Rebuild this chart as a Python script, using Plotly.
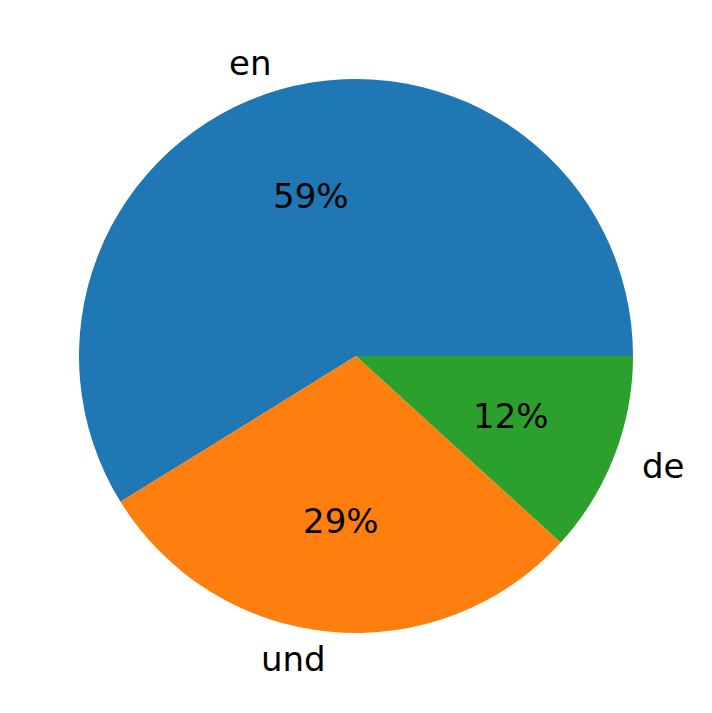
import math
import plotly.graph_objects as go

labels = ["en", "und", "de"]
values = [50, 25, 10]
colors = ["#1f77b4", "#ff7f0e", "#2ca02c"]

# the page body has an 8px margin, so the figure is placed at (8, 8)
OFF = 8
W, H = 712 - OFF, 713 - OFF
R_PX = 277
cx_px, cy_px = 356 - OFF, 356 - OFF
ml = cx_px - R_PX
mt = cy_px - R_PX
mr = W - ml - 2 * R_PX
mb = H - mt - 2 * R_PX

total = sum(values)
# matplotlib-style: first slice starts at 3 o'clock, counterclockwise
rotation = 90 - 360 * values[0] / total

fig = go.Figure(go.Pie(
    labels=labels, values=values, sort=False,
    direction="counterclockwise", rotation=rotation,
    marker=dict(colors=colors, line=dict(width=0)),
    textinfo="none", hoverinfo="label+percent",
    showlegend=False,
))

font = dict(family="DejaVu Sans", size=34, color="black")
ann = []
start = 0.0
r = 0.5  # radius in paper units
for lab, v in zip(labels, values):
    frac = v / total
    mid = (start + frac / 2) * 2 * math.pi
    start += frac
    c, s = math.cos(mid), math.sin(mid)
    ann.append(dict(x=0.5 + 0.6 * r * c, y=0.5 + 0.6 * r * s, xref="paper", yref="paper",
                    text=f"{frac*100:.0f}%", showarrow=False, font=font,
                    xanchor="center", yanchor="middle"))
    ann.append(dict(x=0.5 + 1.1 * r * c, y=0.5 + 1.1 * r * s, xref="paper", yref="paper",
                    text=lab, showarrow=False, font=font,
                    xanchor="left" if c > 0 else "right", yanchor="middle"))

fig.update_layout(
    width=W, height=H, autosize=False,
    margin=dict(l=ml, r=mr, t=mt, b=mb, pad=0),
    paper_bgcolor="white", plot_bgcolor="white",
    annotations=ann,
)
fig.write_html("out.html")
